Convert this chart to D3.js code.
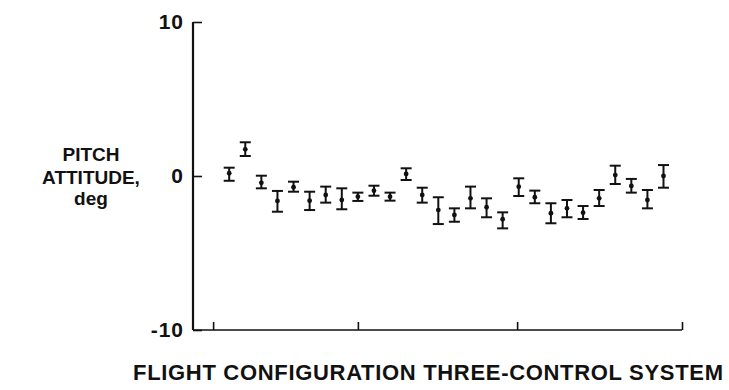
<!DOCTYPE html>
<html>
<head>
<meta charset="utf-8">
<script src="https://cdn.jsdelivr.net/npm/d3@7"></script>
<style>
  html, body { margin: 0; padding: 0; background: #fff; }
  svg { display: block; }
  text { font-family: "Liberation Sans", Arial, Helvetica, sans-serif; font-weight: bold; fill: #111; }
</style>
</head>
<body>
<svg id="chart" width="729" height="390"></svg>
<script>
// Data: 28 flights, mean pitch attitude (deg) with upper/lower error bar ends
const runs = d3.range(1, 29);
const means = [0.18, 1.73, -0.44, -1.62, -0.73, -1.60, -1.23, -1.56, -1.34, -0.95,
               -1.34, 0.13, -1.23, -2.21, -2.53, -1.45, -2.03, -2.81, -0.69, -1.38,
               -2.42, -2.10, -2.38, -1.45, 0.06, -0.65, -1.56, 0.00];
const highs = [0.54, 2.19, 0.02, -0.97, -0.37, -1.02, -0.69, -0.80, -1.08, -0.63,
               -1.08, 0.50, -0.76, -1.38, -2.10, -0.69, -1.45, -2.36, -0.15, -0.95,
               -1.77, -1.56, -1.95, -0.91, 0.67, -0.19, -0.91, 0.71];
const lows  = [-0.31, 1.30, -0.80, -2.32, -1.02, -2.21, -1.73, -2.16, -1.62, -1.28,
               -1.60, -0.26, -1.73, -3.12, -2.97, -2.10, -2.68, -3.40, -1.30, -1.77,
               -3.07, -2.68, -2.79, -1.95, -0.52, -1.08, -2.10, -0.76];
const yTicks = [-10, 0, 10];
const yTickLabels = ["-10", "0", "10"];
const xTicks = [0, 9, 18.9, 29.15];
const xDomain = [-1.25, 29.15];
const yTitle = ["PITCH", "ATTITUDE,", "deg"];
const xTitle = "FLIGHT CONFIGURATION THREE-CONTROL SYSTEM";

const svg = d3.select("#chart");
const x = d3.scaleLinear().domain(xDomain).range([193, 682]);
const y = d3.scaleLinear().domain([-10, 10]).range([330, 22]);

// y axis (ticks pointing inward / right)
const yAxis = d3.axisRight(y).tickValues(yTicks).tickSize(9).tickFormat("");
const gy = svg.append("g").attr("transform", "translate(193,0)").call(yAxis);
gy.select(".domain").attr("d", `M0,${y(10)}V${y(-10)}`).attr("stroke", "#111").attr("stroke-width", 2.2);
gy.selectAll(".tick line").attr("stroke", "#111").attr("stroke-width", 1.6);

// x axis (ticks pointing upward)
const xAxis = d3.axisTop(x).tickValues(xTicks).tickSize(8).tickFormat("");
const gx = svg.append("g").attr("transform", `translate(0,${y(-10)})`).call(xAxis);
gx.select(".domain").attr("d", `M${x(xDomain[0])},0H${x(xDomain[1])}`).attr("stroke", "#111").attr("stroke-width", 1.6);
gx.selectAll(".tick line").attr("stroke", "#111").attr("stroke-width", 1.6);

// y tick labels
svg.append("g").selectAll("text").data(yTicks).join("text")
  .attr("x", 184)
  .attr("y", d => y(d) + 7)
  .attr("text-anchor", "end")
  .attr("font-size", 21)
  .attr("letter-spacing", 1)
  .text((d, i) => yTickLabels[i]);

// y title
svg.append("g").selectAll("text").data(yTitle).join("text")
  .attr("x", 91)
  .attr("y", (d, i) => [161, 184, 205][i])
  .attr("text-anchor", "middle")
  .attr("font-size", 19)
  .text(d => d);

// x title
svg.append("text")
  .attr("x", 428).attr("y", 380)
  .attr("text-anchor", "middle")
  .attr("font-size", 22)
  .attr("textLength", 590)
  .attr("lengthAdjust", "spacing")
  .text(xTitle);

// error bars
const capW = 11;
const bars = svg.append("g").selectAll("g").data(runs).join("g");
bars.append("line")
  .attr("x1", d => x(d)).attr("x2", d => x(d))
  .attr("y1", (d, i) => y(highs[i])).attr("y2", (d, i) => y(lows[i]))
  .attr("stroke", "#111").attr("stroke-width", 2);
bars.append("line")
  .attr("x1", d => x(d) - capW / 2).attr("x2", d => x(d) + capW / 2)
  .attr("y1", (d, i) => y(highs[i])).attr("y2", (d, i) => y(highs[i]))
  .attr("stroke", "#111").attr("stroke-width", 2);
bars.append("line")
  .attr("x1", d => x(d) - capW / 2).attr("x2", d => x(d) + capW / 2)
  .attr("y1", (d, i) => y(lows[i])).attr("y2", (d, i) => y(lows[i]))
  .attr("stroke", "#111").attr("stroke-width", 2);
bars.append("circle")
  .attr("cx", d => x(d)).attr("cy", (d, i) => y(means[i]))
  .attr("r", 2.4).attr("fill", "#111");
</script>
</body>
</html>
